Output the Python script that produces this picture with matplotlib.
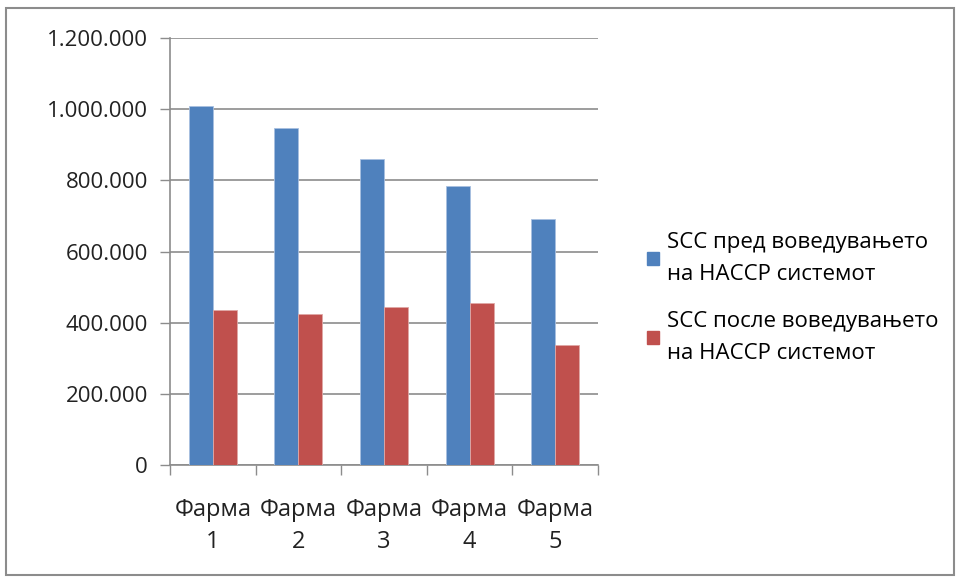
import matplotlib.pyplot as plt
import numpy as np
from matplotlib.patches import Rectangle, Patch

farmi = ['Фарма\n1', 'Фарма\n2', 'Фарма\n3', 'Фарма\n4', 'Фарма\n5']
scc_pred = [1010000, 948000, 859000, 783000, 692000]
scc_posle = [437000, 424000, 445000, 456000, 337000]
legend_labels = ['SCC пред воведувањето\nна HACCP системот',
                 'SCC после воведувањето\nна HACCP системот']
ytick_vals = [0, 200000, 400000, 600000, 800000, 1000000, 1200000]

plt.rcParams['font.family'] = ['Open Sans', 'DejaVu Sans']
blue = '#4f81bd'
red = '#c0504d'

fig = plt.figure(figsize=(9.6, 5.79), dpi=100)
ax = fig.add_axes([170/960, 1-465/579, (598-170)/960, (465-38)/579])

x = np.arange(len(farmi))
w = 0.28
ax.bar(x - w/2, scc_pred, w, color=blue, edgecolor='#a8c0e0', linewidth=0.6, zorder=3)
ax.bar(x + w/2, scc_posle, w, color=red, edgecolor='#e0a8a6', linewidth=0.6, zorder=3)

ax.set_xlim(-0.5, len(farmi) - 0.5)
ax.set_ylim(0, 1200000)
ax.set_yticks(ytick_vals)
ax.set_yticklabels(['{:,}'.format(v).replace(',', '.') for v in ytick_vals], fontsize=16, color='#222222')
ax.yaxis.grid(True, color='#8c8c8c', linewidth=1.2, zorder=0)
ax.tick_params(axis='y', length=7, color='#8c8c8c', width=1, pad=9)

ax.set_xticks(x)
ax.set_xticklabels(farmi, fontsize=17, color='#222222', linespacing=1.42)
ax.tick_params(axis='x', length=0, pad=24)
ax.set_xticks(np.arange(-0.5, len(farmi)), minor=True)
ax.tick_params(axis='x', which='minor', length=7, color='#8c8c8c', width=1)

for s in ['top', 'right']:
    ax.spines[s].set_visible(False)
ax.spines['left'].set_color('#8c8c8c')
ax.spines['bottom'].set_color('#8c8c8c')
ax.spines['left'].set_linewidth(1.2)
ax.spines['bottom'].set_linewidth(1.2)

handles = [Patch(color=blue), Patch(color=red)]
leg = fig.legend(handles, legend_labels, loc='center left', bbox_to_anchor=(636/960, 1-298/579),
                 frameon=False, fontsize=16, handlelength=0.55, handleheight=0.55,
                 handletextpad=0.35, labelspacing=1.15, borderpad=0)
for t in leg.get_texts():
    t.set_linespacing(1.7)

fig.patches.append(Rectangle((6/960, 4/579), 948/960, 567/579, transform=fig.transFigure,
                             fill=False, edgecolor='#8c8c8c', linewidth=1.5))

plt.savefig('out.png', dpi=100)
